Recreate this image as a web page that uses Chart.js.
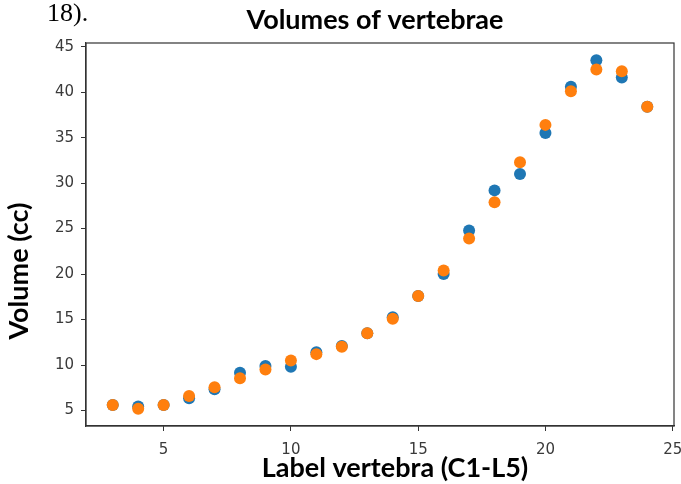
<!DOCTYPE html>
<html>
<head>
<meta charset="utf-8">
<script src="https://cdn.jsdelivr.net/npm/chart.js@4/dist/chart.umd.min.js"></script>
<style>
  html, body { margin: 0; padding: 0; background: #ffffff; }
  #wrap { position: relative; width: 681px; height: 484px; }
  canvas { display: block; }
</style>
</head>
<body>
<div id="wrap"><canvas id="c" width="681" height="484"></canvas></div>
<script>
// ---- data ----
const vertebraLabels = [3, 4, 5, 6, 7, 8, 9, 10, 11, 12, 13, 14, 15, 16, 17, 18, 19, 20, 21, 22, 23, 24];
const seriesBlue   = [5.6, 5.45, 5.6, 6.35, 7.35, 9.15, 9.9, 9.8, 11.4, 12.1, 13.5, 15.25, 17.6, 20.0, 24.8, 29.2, 31.0, 35.5, 40.6, 43.5, 41.6, 38.4];
const seriesOrange = [5.6, 5.2, 5.6, 6.6, 7.55, 8.55, 9.5, 10.5, 11.2, 12.0, 13.5, 15.1, 17.6, 20.4, 23.9, 27.9, 32.3, 36.4, 40.1, 42.5, 42.3, 38.4];
const xTicks = [5, 10, 15, 20, 25];
const yTicks = [5, 10, 15, 20, 25, 30, 35, 40, 45];
const titleText = 'Volumes of vertebrae';
const xTitle = 'Label vertebra (C1-L5)';
const yTitle = 'Volume (cc)';
const cornerText = '18).';

const toPoints = (xs, ys) => xs.map((x, i) => ({ x: x, y: ys[i] }));

const textPlugin = {
  id: 'texts',
  afterDraw(chart) {
    const ctx = chart.ctx;
    const a = chart.chartArea;
    ctx.save();
    // frame (all four spines)
    ctx.strokeStyle = '#333333';
    ctx.lineWidth = 1.2;
    ctx.strokeRect(a.left, a.top, a.right - a.left, a.bottom - a.top);
    // corner text
    ctx.fillStyle = '#000000';
    ctx.font = '26px "Liberation Serif"';
    ctx.textAlign = 'left';
    ctx.textBaseline = 'alphabetic';
    ctx.fillText(cornerText, 47, 21);
    // title
    ctx.font = 'bold 27px Lato';
    ctx.textAlign = 'center';
    ctx.fillText(titleText, 375, 29);
    // x title
    ctx.fillText(xTitle, 395, 477);
    // y title
    ctx.translate(28, 271);
    ctx.rotate(-Math.PI / 2);
    ctx.fillText(yTitle, 0, 0);
    ctx.restore();
  }
};

new Chart(document.getElementById('c'), {
  type: 'scatter',
  data: {
    datasets: [
      {
        label: 'blue',
        data: toPoints(vertebraLabels, seriesBlue),
        backgroundColor: '#1f77b4',
        borderColor: '#1f77b4',
        borderWidth: 0,
        pointRadius: 6,
        order: 1
      },
      {
        label: 'orange',
        data: toPoints(vertebraLabels, seriesOrange),
        backgroundColor: '#ff7f0e',
        borderColor: '#ff7f0e',
        borderWidth: 0,
        pointRadius: 6,
        order: 0
      }
    ]
  },
  options: {
    responsive: false,
    animation: false,
    layout: { padding: { top: 43, right: 7, left: 0, bottom: 0 } },
    plugins: {
      legend: { display: false },
      title: { display: false },
      tooltip: { enabled: false }
    },
    scales: {
      x: {
        type: 'linear',
        min: 1.95,
        max: 25.05,
        afterBuildTicks: s => { s.ticks = xTicks.map(v => ({ value: v })); },
        afterFit: s => { s.height = 58; s.paddingLeft = 0; s.paddingRight = 0; },
        grid: { drawOnChartArea: false, drawTicks: true, tickLength: 5, tickColor: '#333333' },
        border: { display: true, color: '#333333', width: 1.2 },
        ticks: { color: '#3a3a3a', font: { family: '"DejaVu Sans"', size: 15 }, padding: 10, maxRotation: 0 }
      },
      y: {
        type: 'linear',
        min: 3.3,
        max: 45.4,
        afterBuildTicks: s => { s.ticks = yTicks.map(v => ({ value: v })); },
        afterFit: s => { s.width = 86; s.paddingTop = 0; s.paddingBottom = 0; },
        grid: { drawOnChartArea: false, drawTicks: true, tickLength: 5, tickColor: '#333333' },
        border: { display: true, color: '#333333', width: 1.2 },
        ticks: { color: '#3a3a3a', font: { family: '"DejaVu Sans"', size: 15 }, padding: 7 }
      }
    }
  },
  plugins: [textPlugin]
});
</script>
</body>
</html>
